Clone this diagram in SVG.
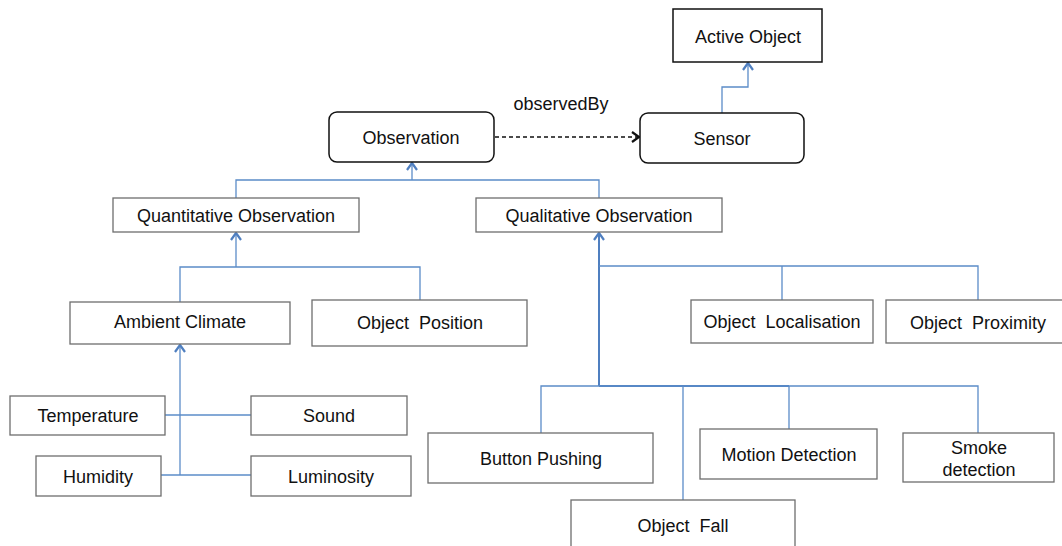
<svg xmlns="http://www.w3.org/2000/svg" width="1062" height="546" viewBox="0 0 1062 546">
<style>
text{font-family:"Liberation Sans",Arial,sans-serif;font-size:18px;fill:#111;text-anchor:middle;white-space:pre;}
.box{fill:#fff;stroke:#6e6e6e;stroke-width:1.3;}
.rbox{fill:#fff;stroke:#111;stroke-width:1.5;}
.ln{fill:none;stroke:#5b8cc8;stroke-width:1.3;}
.lt{fill:none;stroke:#4f7fc0;stroke-width:2;}
.dash{fill:none;stroke:#111;stroke-width:1.3;stroke-dasharray:4 3;}
</style>
<defs>
<marker id="blueArrow" markerWidth="12" markerHeight="12" refX="10" refY="6" orient="auto" markerUnits="userSpaceOnUse">
<path d="M3,1 L10,6 L3,11" fill="none" stroke="#4f7fc0" stroke-width="2.2"/>
</marker>
<marker id="blackArrow" markerWidth="12" markerHeight="12" refX="10" refY="6" orient="auto" markerUnits="userSpaceOnUse">
<path d="M3,1 L10,6 L3,11" fill="none" stroke="#111" stroke-width="2.2"/>
</marker>
</defs>

<g id="connectors">
<path class="ln" d="M722,113 V87 H748 V63" marker-end="url(#blueArrow)"/>
<path class="dash" d="M495,137 H639" marker-end="url(#blackArrow)"/>
<path class="ln" d="M236,198 V180 H599 V198"/>
<path class="ln" d="M412,180 V163" marker-end="url(#blueArrow)"/>
<path class="ln" d="M180,302 V267 H420 V300"/>
<path class="ln" d="M236,267 V233" marker-end="url(#blueArrow)"/>
<path class="ln" d="M180,475 V345" marker-end="url(#blueArrow)"/>
<path class="ln" d="M165,415 H251"/>
<path class="ln" d="M161,475 H251"/>
<path class="lt" d="M599,386 V233" marker-end="url(#blueArrow)"/>
<path class="ln" d="M599,266 H978 V300 M782,266 V300"/>
<path class="lt" d="M599,386 H789"/>
<path class="ln" d="M541,433 V386 H978 V433 M683,386 V500 M789,386 V429"/>
<text x="561" y="110">observedBy</text>
</g>

<g id="active-object"><rect class="rbox" x="673" y="9" width="149" height="53"/><text x="748" y="43">Active Object</text></g>
<g id="sensor"><rect class="rbox" x="640" y="113" width="164" height="50" rx="8"/><text x="722" y="145">Sensor</text></g>
<g id="observation"><rect class="rbox" x="329" y="112" width="165" height="50" rx="8"/><text x="411" y="144">Observation</text></g>
<g id="quantitative"><rect class="box" x="113" y="198" width="246" height="34"/><text x="236" y="222">Quantitative Observation</text></g>
<g id="qualitative"><rect class="box" x="476" y="198" width="246" height="34"/><text x="599" y="222">Qualitative Observation</text></g>
<g id="ambient-climate"><rect class="box" x="70" y="302" width="220" height="42"/><text x="180" y="328">Ambient Climate</text></g>
<g id="object-position"><rect class="box" x="312" y="300" width="215" height="46"/><text x="420" y="329">Object  Position</text></g>
<g id="object-localisation"><rect class="box" x="691" y="300" width="182" height="43"/><text x="782" y="328">Object  Localisation</text></g>
<g id="object-proximity"><rect class="box" x="886" y="300" width="180" height="43"/><text x="978" y="329">Object  Proximity</text></g>
<g id="temperature"><rect class="box" x="10" y="396" width="155" height="39"/><text x="88" y="422">Temperature</text></g>
<g id="sound"><rect class="box" x="251" y="396" width="156" height="39"/><text x="329" y="422">Sound</text></g>
<g id="humidity"><rect class="box" x="36" y="456" width="125" height="40"/><text x="98" y="483">Humidity</text></g>
<g id="luminosity"><rect class="box" x="251" y="456" width="160" height="40"/><text x="331" y="483">Luminosity</text></g>
<g id="button-pushing"><rect class="box" x="428" y="433" width="225" height="50"/><text x="541" y="465">Button Pushing</text></g>
<g id="motion-detection"><rect class="box" x="700" y="429" width="177" height="50"/><text x="789" y="461">Motion Detection</text></g>
<g id="smoke-detection"><rect class="box" x="903" y="433" width="151" height="49"/><text x="979" y="454">Smoke</text><text x="979" y="476">detection</text></g>
<g id="object-fall"><rect class="box" x="571" y="500" width="224" height="50"/><text x="683" y="532">Object  Fall</text></g>
</svg>
